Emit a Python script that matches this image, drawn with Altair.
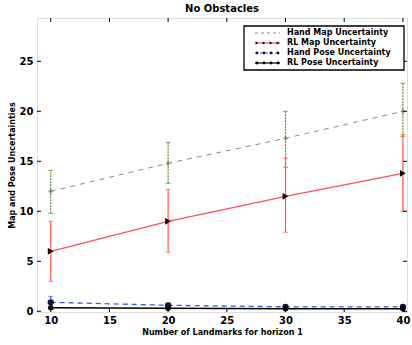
import altair as alt
import pandas as pd

# ---- data ----
landmarks = [10, 20, 30, 40]
hand_map = [12.0, 14.8, 17.3, 20.0]
hand_map_lo = [9.8, 12.8, 14.4, 17.5]
hand_map_hi = [14.1, 16.9, 20.0, 22.8]
rl_map = [6.0, 9.0, 11.5, 13.8]
rl_map_lo = [3.0, 5.9, 7.9, 10.0]
rl_map_hi = [9.0, 12.2, 15.3, 17.7]
hand_pose = [0.9, 0.6, 0.45, 0.45]
hand_pose_lo = [0.4, 0.4, 0.3, 0.3]
hand_pose_hi = [1.5, 0.8, 0.6, 0.6]
rl_pose = [0.35, 0.3, 0.25, 0.25]
rl_pose_lo = [0.2, 0.2, 0.15, 0.15]
rl_pose_hi = [0.5, 0.4, 0.35, 0.35]

x_ticks = [10, 15, 20, 25, 30, 35, 40]
y_ticks = [0, 5, 10, 15, 20, 25]
legend_labels = ["Hand Map Uncertainty", "RL Map Uncertainty",
                 "Hand Pose Uncertainty", "RL Pose Uncertainty"]

W, H = 370, 294
FONT = "DejaVu Sans"

def frame(vals, lo, hi):
    return pd.DataFrame({"x": landmarks, "y": vals, "lo": lo, "hi": hi})

hm = frame(hand_map, hand_map_lo, hand_map_hi)
rm = frame(rl_map, rl_map_lo, rl_map_hi)
hp = frame(hand_pose, hand_pose_lo, hand_pose_hi)
rp = frame(rl_pose, rl_pose_lo, rl_pose_hi)

xs = alt.Scale(domain=[8.83, 40.35], nice=False, zero=False)
ys = alt.Scale(domain=[-0.07, 29.33], nice=False, zero=False)

XA = alt.Axis(
    values=x_ticks, title="Number of Landmarks for horizon 1", grid=False,
    domain=False, ticks=False, labelFont=FONT, labelFontWeight="bold",
    labelFontSize=10, labelPadding=3, titleFont=FONT, titleFontWeight="bold",
    titleFontSize=8, titlePadding=3, labelColor="#000", titleColor="#000")
YA = alt.Axis(
    values=y_ticks, title="Map and Pose Uncertainties", grid=False,
    domain=False, ticks=False, labelFont=FONT, labelFontWeight="bold",
    labelFontSize=10, labelPadding=4, titleFont=FONT, titleFontWeight="bold",
    titleFontSize=8, titlePadding=3, labelColor="#000", titleColor="#000")

def X(f="x"):
    return alt.X(f"{f}:Q", scale=xs, axis=XA)

def Y(f="y"):
    return alt.Y(f"{f}:Q", scale=ys, axis=YA)

def errbars(df, color, dash=None):
    kw = {}
    if dash:
        kw["strokeDash"] = dash
    bars = alt.Chart(df).mark_rule(color=color, strokeWidth=1.2, **kw).encode(
        x=X(), y=Y("lo"), y2="hi:Q")
    caps_hi = alt.Chart(df).mark_tick(color=color, orient="horizontal", size=5, thickness=1).encode(
        x=X(), y=Y("hi"))
    caps_lo = alt.Chart(df).mark_tick(color=color, orient="horizontal", size=5, thickness=1).encode(
        x=X(), y=Y("lo"))
    return bars + caps_hi + caps_lo

hm_line = alt.Chart(hm).mark_line(color="#8a8a8a", strokeDash=[5, 5], strokeWidth=1).encode(x=X(), y=Y())
hm_err = errbars(hm, "#5e8a32", dash=[2, 1])
hm_pts = alt.Chart(hm).mark_point(shape="cross", color="#5e8a32", size=20, filled=True).encode(x=X(), y=Y())

rm_line = alt.Chart(rm).mark_line(color="#ff4d5a", strokeWidth=1.2).encode(x=X(), y=Y())
rm_err = errbars(rm, "#ff5a3c")
rm_pts = alt.Chart(rm).mark_point(shape="triangle-right", color="#000", size=45, filled=True, opacity=1).encode(x=X(), y=Y())

hp_line = alt.Chart(hp).mark_line(color="#3b55e0", strokeDash=[5, 4], strokeWidth=1.3).encode(x=X(), y=Y())
hp_err = errbars(hp, "#3b55e0")
hp_pts = alt.Chart(hp).mark_point(shape="circle", color="#0a1440", size=40, filled=True, opacity=1).encode(x=X(), y=Y())

rp_line = alt.Chart(rp).mark_line(color="#000", strokeWidth=1.5).encode(x=X(), y=Y())
rp_pts = alt.Chart(rp).mark_point(shape="circle", color="#000", size=30, filled=True, opacity=1).encode(x=X(), y=Y())

# inward ticks on all four sides (matplotlib style)
xt = pd.DataFrame({"x": x_ticks})
yt = pd.DataFrame({"y": y_ticks})
tb = alt.Chart(xt).mark_rule(color="#000", strokeWidth=1).encode(x=X(), y=alt.value(H), y2=alt.value(H - 4))
tt = alt.Chart(xt).mark_rule(color="#000", strokeWidth=1).encode(x=X(), y=alt.value(0), y2=alt.value(4))
tl = alt.Chart(yt).mark_rule(color="#000", strokeWidth=1).encode(y=Y(), x=alt.value(0), x2=alt.value(4))
tr = alt.Chart(yt).mark_rule(color="#000", strokeWidth=1).encode(y=Y(), x=alt.value(W), x2=alt.value(W - 4))

# legend drawn by hand
lg = pd.DataFrame({"label": legend_labels, "row": [0, 1, 2, 3]})
LX0, LX1, LY0, LY1 = 207, 367, 8, 52
box = alt.Chart(lg.head(1)).mark_rect(fill="white", stroke="#000", strokeWidth=1.3).encode(
    x=alt.value(LX0), x2=alt.value(LX1), y=alt.value(LY0), y2=alt.value(LY1))
rows_y = [15, 25, 35, 45]
leg_layers = [box]
styles = [
    dict(color="#8a8a8a", strokeDash=[3, 3]),
    dict(color="#ff4d5a"),
    dict(color="#3b55e0", strokeDash=[3, 2]),
    dict(color="#000"),
]
markers = [
    dict(shape="cross", color="#5e8a32", size=6),
    dict(shape="triangle-right", color="#000", size=10),
    dict(shape="circle", color="#0a1440", size=8),
    dict(shape="circle", color="#000", size=8),
]
for i, (st, mk) in enumerate(zip(styles, markers)):
    one = lg[lg.row == i]
    leg_layers.append(alt.Chart(one).mark_rule(strokeWidth=1.2, **st).encode(
        x=alt.value(218), x2=alt.value(243), y=alt.value(rows_y[i])))
    if i > 0:
        for px in [220, 227, 234, 241]:
            leg_layers.append(alt.Chart(one).mark_point(filled=True, opacity=1, **mk).encode(
                x=alt.value(px), y=alt.value(rows_y[i])))
    leg_layers.append(alt.Chart(one).mark_text(
        align="left", baseline="middle", font=FONT, fontWeight="bold", fontSize=8, color="#000").encode(
        x=alt.value(250), y=alt.value(rows_y[i]), text="label:N"))

chart = alt.layer(
    hm_line, hm_err, hm_pts,
    rm_err, rm_line, rm_pts,
    hp_err, hp_line, hp_pts,
    rp_line, rp_pts,
    tb, tt, tl, tr,
    *leg_layers,
).properties(
    width=W, height=H,
    title=alt.TitleParams("No Obstacles", font=FONT, fontWeight="bold", fontSize=10,
                          offset=4, color="#000"),
    autosize=alt.AutoSizeParams(type="none"),
    padding={"left": 37, "top": 18, "right": 5, "bottom": 33},
).configure_view(stroke="#000", strokeWidth=1.5).configure(background="white")

chart.save("out.html", embed_options={"renderer": "svg", "actions": False})
